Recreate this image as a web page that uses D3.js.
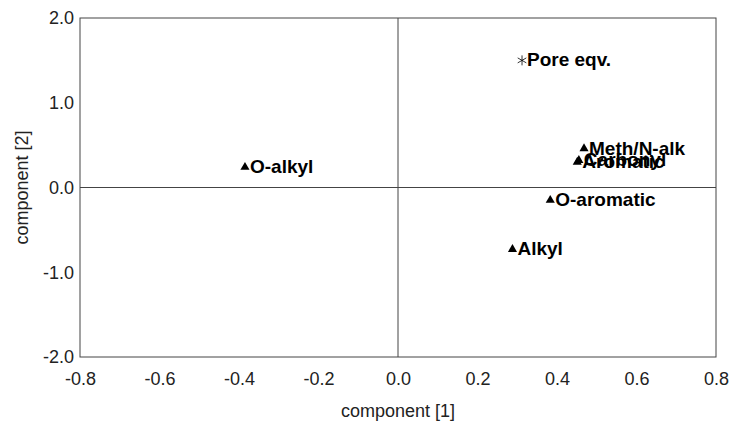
<!DOCTYPE html>
<html>
<head>
<meta charset="utf-8">
<script src="https://cdn.jsdelivr.net/npm/d3@7"></script>
<style>
  body { margin: 0; background: #fff; }
</style>
</head>
<body>
<script>
// loadings (component 1, component 2)
const labels = ["O-alkyl", "Meth/N-alk", "Carbonyl", "Aromatic", "O-aromatic", "Alkyl", "Pore eqv."];
const comp1 = [-0.385, 0.468, 0.455, 0.451, 0.383, 0.288, 0.312];
const comp2 = [0.24, 0.46, 0.32, 0.30, -0.15, -0.73, 1.50];
const markers = ["triangle", "triangle", "triangle", "triangle", "triangle", "triangle", "star"];

const xTicks = [-0.8, -0.6, -0.4, -0.2, 0.0, 0.2, 0.4, 0.6, 0.8];
const yTicks = [-2.0, -1.0, 0.0, 1.0, 2.0];

const width = 732;
const height = 426;
const margin = { top: 18, right: 16, bottom: 69, left: 80 };
const FONT = "Arial, 'Liberation Sans', sans-serif";

const x = d3.scaleLinear().domain([-0.8, 0.8]).range([margin.left, width - margin.right]);
const y = d3.scaleLinear().domain([-2, 2]).range([height - margin.bottom, margin.top]);

// plain hyphen for negatives, like the original
const fmt = (d) => d3.format(".1f")(d).replace("\u2212", "-");

const svg = d3.select("body")
  .append("svg")
  .attr("width", width)
  .attr("height", height)
  .style("font-family", FONT);

svg.append("rect").attr("width", width).attr("height", height).attr("fill", "white");

// plot frame
svg.append("rect")
  .attr("x", x(-0.8))
  .attr("y", y(2))
  .attr("width", x(0.8) - x(-0.8))
  .attr("height", y(-2) - y(2))
  .attr("fill", "none")
  .attr("stroke", "#444")
  .attr("stroke-width", 1);

// reference lines at zero
svg.append("line")
  .attr("x1", x(-0.8)).attr("x2", x(0.8))
  .attr("y1", y(0)).attr("y2", y(0))
  .attr("stroke", "#444");
svg.append("line")
  .attr("x1", x(0)).attr("x2", x(0))
  .attr("y1", y(-2)).attr("y2", y(2))
  .attr("stroke", "#444");

// axes (no tick marks, labels only)
svg.append("g")
  .attr("transform", `translate(0,${y(-2)})`)
  .call(d3.axisBottom(x).tickValues(xTicks).tickFormat(fmt).tickSize(0).tickPadding(15))
  .call((g) => g.select(".domain").remove())
  .call((g) => g.selectAll("text").attr("font-size", 18).attr("fill", "#222").style("font-family", FONT));

svg.append("g")
  .attr("transform", `translate(${x(-0.8)},0)`)
  .call(d3.axisLeft(y).tickValues(yTicks).tickFormat(fmt).tickSize(0).tickPadding(6))
  .call((g) => g.select(".domain").remove())
  .call((g) => g.selectAll("text").attr("font-size", 18).attr("fill", "#222").style("font-family", FONT));

// axis titles
svg.append("text")
  .attr("x", (x(-0.8) + x(0.8)) / 2)
  .attr("y", 417)
  .attr("text-anchor", "middle")
  .attr("font-size", 18)
  .attr("fill", "#222")
  .text("component [1]");

svg.append("text")
  .attr("transform", `translate(28,${(y(2) + y(-2)) / 2}) rotate(-90)`)
  .attr("text-anchor", "middle")
  .attr("font-size", 18)
  .attr("fill", "#222")
  .text("component [2]");

const data = labels.map((label, i) => ({ label, c1: comp1[i], c2: comp2[i], marker: markers[i] }));

const tri = d3.symbol().type(d3.symbolTriangle).size(36);
const star = d3.symbol().type(d3.symbolAsterisk).size(70);

const pts = svg.append("g")
  .selectAll("g")
  .data(data)
  .join("g")
  .attr("transform", (d) => `translate(${x(d.c1)},${y(d.c2)})`);

pts.append("path")
  .attr("d", (d) => (d.marker === "star" ? star() : tri()))
  .attr("fill", (d) => (d.marker === "star" ? "none" : "#000"))
  .attr("stroke", "#000")
  .attr("stroke-width", (d) => (d.marker === "star" ? 0.8 : 0));

pts.append("text")
  .attr("x", 5)
  .attr("y", 6)
  .attr("font-size", 19)
  .attr("font-weight", 700)
  .attr("fill", "#000")
  .text((d) => d.label);
</script>
</body>
</html>
